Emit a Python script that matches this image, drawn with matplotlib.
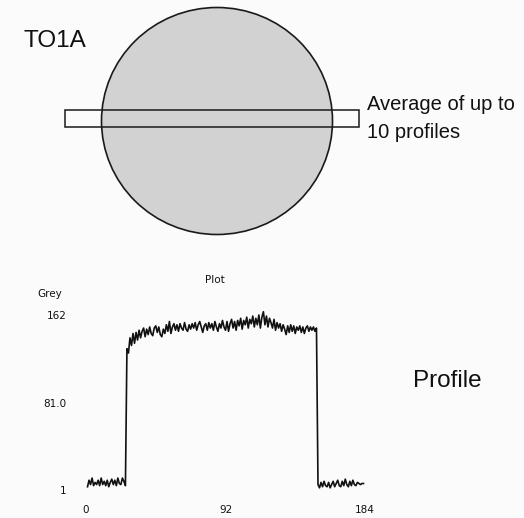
import numpy as np
import matplotlib.pyplot as plt
from matplotlib.patches import Ellipse, Rectangle

# profile (grey value per pixel position)
pos = np.arange(1, 184)
base_left = [4, 10, 6, 12, 5, 8, 6, 10, 5, 12, 6, 9, 5, 10, 4, 8, 11, 6, 10, 5,
             12, 7, 6, 12, 9, 5]
plateau = [131, 127, 141, 134, 145, 136, 146, 139, 148, 141, 147, 150, 142, 149,
           144, 151, 145, 143, 150, 152, 146, 151, 144, 142, 149, 145, 153, 147,
           156, 145, 151, 154, 148, 153,
           147, 154, 150, 148, 155, 149, 147, 153, 149, 154,
           150, 155, 148, 153, 156, 151, 146, 152, 154, 148,
           155, 150, 154, 148, 156, 151, 147, 154, 150, 157,
           151, 148, 156, 147, 154, 158, 150, 156, 148, 157,
           152, 159, 149, 157, 153, 160, 150, 158, 154, 161,
           151, 159, 153, 162, 150, 160, 165, 153, 161, 151,
           159, 155, 150, 158, 148, 155, 150, 154, 147, 153,
           149, 144, 152, 146, 153, 147, 152, 145, 151, 148,
           152, 146, 151, 145, 150, 152, 147, 151, 148, 151,
           147, 150]
base_right = [6, 3, 8, 4, 9, 5, 4, 8, 3, 6, 9, 4, 7, 10, 5, 4, 9, 5, 11, 6,
              4, 9, 5, 10, 6, 5, 8, 7, 6, 7, 7]
grey = np.array(base_left + plateau + base_right)

x_ticks = [0, 92, 184]
y_ticks = [1, 81, 162]
y_tick_labels = ['1', '81.0', '162']

W, H = 524, 518
fig = plt.figure(figsize=(W / 100, H / 100), dpi=100)
fig.patch.set_facecolor('#fbfbfb')

# drawing layer in pixel coordinates
top = fig.add_axes([0, 0, 1, 1])
top.set_xlim(0, W)
top.set_ylim(H, 0)
top.axis('off')
top.patch.set_alpha(0)

top.add_patch(Ellipse((217, 121), 231, 227, facecolor='#d2d2d2',
                      edgecolor='#1a1a1a', lw=1.2))
top.add_patch(Rectangle((65, 110), 294, 17, facecolor='none',
                        edgecolor='#1a1a1a', lw=1.1))

big = dict(family='Liberation Sans', color='#111111', va='baseline')
top.text(23, 47, 'TO1A', fontsize=17.5, **big)
top.text(367, 110, 'Average of up to', fontsize=14.5, **big)
top.text(367, 138, '10 profiles', fontsize=14.5, **big)
top.text(413, 387, 'Profile', fontsize=17.5, **big)

small = dict(family='DejaVu Sans', fontsize=7.5, color='#111111')
top.text(215, 283, 'Plot', ha='center', va='baseline', **small)
top.text(50, 297, 'Grey', ha='center', va='baseline', **small)

# profile plot
ax = fig.add_axes([86 / W, (H - 490) / H, 279 / W, 175 / H])
ax.patch.set_alpha(0)
ax.plot(pos, grey, color='#111111', lw=1.2, clip_on=False)
ax.set_xlim(0, 184)
ax.set_ylim(1, 162)
ax.set_xticks(x_ticks)
ax.set_xticklabels([str(t) for t in x_ticks])
ax.set_yticks(y_ticks)
ax.set_yticklabels(y_tick_labels)
ax.tick_params(length=0, labelsize=7.5, labelcolor='#111111')
ax.tick_params(axis='x', pad=11)
ax.tick_params(axis='y', pad=14)
for s in ax.spines.values():
    s.set_visible(False)

plt.savefig('out.png', dpi=100, facecolor=fig.get_facecolor())
